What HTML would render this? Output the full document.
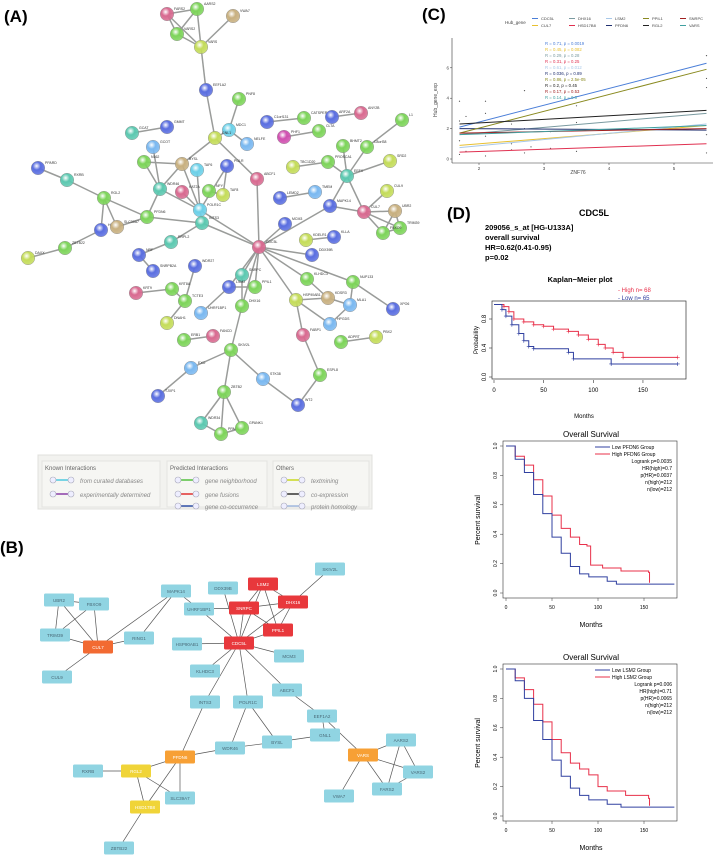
<!DOCTYPE html>
<html><head><meta charset="utf-8">
<style>
html,body{margin:0;padding:0;background:#fff;width:720px;height:856px;overflow:hidden}
svg{display:block;font-family:"Liberation Sans",sans-serif}
</style></head>
<body>
<svg id="fig" width="720" height="856" viewBox="0 0 720 856" xmlns="http://www.w3.org/2000/svg">
<defs id="defs"></defs>
<text x="4" y="22" font-size="17" font-weight="bold">(A)</text>
<text x="0" y="553" font-size="17" font-weight="bold">(B)</text>
<text x="422" y="20" font-size="17" font-weight="bold">(C)</text>
<text x="447" y="219" font-size="17" font-weight="bold">(D)</text>
<g id="pa"></g>
<g id="legA">
<rect x="38" y="455" width="334" height="54" fill="#f2f2ef" stroke="#e0e0dc"/>
<rect x="42" y="461" width="118" height="46" fill="#f6f6f3" stroke="#e4e4e0"/>
<rect x="167" y="461" width="100" height="46" fill="#f6f6f3" stroke="#e4e4e0"/>
<rect x="273" y="461" width="96" height="46" fill="#f6f6f3" stroke="#e4e4e0"/>
<g font-size="6" fill="#666">
<text x="45" y="470">Known Interactions</text><text x="170" y="470">Predicted Interactions</text><text x="276" y="470">Others</text>
<g font-style="italic" fill="#888"><text x="80" y="483">from curated databases</text><text x="80" y="497">experimentally determined</text>
<text x="205" y="483">gene neighborhood</text><text x="205" y="497">gene fusions</text><text x="205" y="509">gene co-occurrence</text>
<text x="311" y="483">textmining</text><text x="311" y="497">co-expression</text><text x="311" y="509">protein homology</text></g></g>
</g>
<g id="pb"></g>
<g id="pc"></g>
<g id="pd"></g>
</svg>
<script>
// ---------- Panel C data ----------
const cGenes=["CDC5L","CUL7","DHX16","HSD17B8","LSM2","PFDN6","PPIL1","RGL2","SNRPC","VARS"];
const cStart=[2.1,0.9,1.6,0.45,0.75,2.0,1.7,2.3,1.7,1.6];
const cEnd=[6.3,2.2,3.0,1.0,2.3,1.9,5.9,3.2,2.0,2.2];
const cXticks=[2,3,4,5];
const cYticks=[0,2,4,6];
const cStats=["R = 0.71, p = 0.0019","R = 0.45, p = 0.082","R = 0.29, p = 0.28","R = 0.31, p = 0.25","R = 0.61, p = 0.012","R = 0.036, p = 0.89","R = 0.86, p = 2.5e-05","R = 0.2, p = 0.45","R = 0.17, p = 0.53","R = 0.14, p = 0.6"];
const cPtX=[1.7,1.7,1.7,1.7,1.8,1.8,2.1,2.1,2.1,2.1,2.5,2.5,2.5,2.7,2.7,2.7,2.8,3.1,3.1,3.5,3.5,3.5,5.5,5.5,5.5,5.5,5.5];
const cPtY=[3.8,2.5,1.2,0.3,2.8,0.5,3.8,3.0,1.5,0.2,2.3,1.0,0.6,4.5,2.0,0.4,0.8,1.8,0.7,3.5,2.4,0.5,6.8,5.3,4.7,1.6,0.4];
// ---------- Panel D data ----------
const kmHighT=[0,10,15,20,30,40,50,60,75,85,95,105,112,120,130,185];
const kmHighS=[1,0.97,0.9,0.8,0.76,0.72,0.7,0.66,0.63,0.58,0.52,0.45,0.4,0.34,0.27,0.27];
const kmLowT=[0,8,12,18,25,30,35,40,75,80,118,185];
const kmLowS=[1,0.93,0.84,0.72,0.6,0.5,0.42,0.39,0.34,0.25,0.18,0.18];
const pfHighT=[0,10,20,30,40,50,60,70,80,88,92,105,125,155,156];
const pfHighS=[1,0.93,0.87,0.77,0.66,0.53,0.44,0.38,0.33,0.32,0.19,0.17,0.15,0.14,0.07];
const pfLowT=[0,10,20,30,40,50,60,70,80,90,110,120,183];
const pfLowS=[1,0.91,0.82,0.67,0.54,0.38,0.27,0.18,0.13,0.11,0.08,0.06,0.06];
const lsHighT=[0,10,20,30,40,50,60,70,80,90,100,110,130,155,156];
const lsHighS=[1,0.94,0.86,0.76,0.64,0.52,0.43,0.36,0.32,0.28,0.2,0.17,0.14,0.12,0.07];
const lsLowT=[0,10,20,30,40,50,60,70,80,90,110,125,183];
const lsLowS=[1,0.92,0.8,0.65,0.52,0.38,0.27,0.19,0.14,0.11,0.08,0.06,0.06];
const kmXticks=[0,50,100,150];
const kmYticks=[0,0.4,0.8];
const osYticks=[0,0.2,0.4,0.6,0.8,1.0];

const NS="http://www.w3.org/2000/svg";
function mk(parent,tag,attrs,txt){const e=document.createElementNS(NS,tag);for(const k in attrs)e.setAttribute(k,attrs[k]);if(txt!==undefined)e.textContent=txt;parent.appendChild(e);return e;}

// ---------- Panel A ----------
const colA={g:"#7dd45a",y:"#c4dc5a",b:"#5a6ee0",c:"#6cd0e8",t:"#5cc8b0",p:"#d86a90",m:"#d050b0",n:"#c8b080",l:"#7ab8f0"};
const defs=document.getElementById('defs');
for(const k in colA){const gr=mk(defs,'radialGradient',{id:'gr'+k,cx:'40%',cy:'35%',r:'65%'});mk(gr,'stop',{offset:'0%','stop-color':'#fff'});mk(gr,'stop',{offset:'45%','stop-color':colA[k]});mk(gr,'stop',{offset:'100%','stop-color':colA[k],'stop-opacity':0.85});}
const aNodes=[["FARS2",167,14,"p"],["AARS2",197,9,"g"],["VWA7",233,16,"n"],["VARS2",177,34,"g"],["VARS",201,47,"y"],["EEF1A2",206,90,"b"],["PNF8",239,99,"g"],["MDC1",229,130,"c"],["GNL1",215,138,"y"],["GCAT",132,133,"t"],["GMMT",167,127,"b"],["NELFE",247,144,"l"],["C1orf131",267,122,"b"],["CATSPER3",304,118,"g"],["ARF2A",332,117,"b"],["ANY2B",361,113,"p"],["L1",402,120,"g"],["PHF1",284,137,"m"],["CLTA",319,131,"g"],["BHMT2",343,146,"g"],["C8orf38",367,147,"g"],["SRD2",390,161,"y"],["TBC1D20",293,167,"y"],["PROSCA1",328,162,"g"],["EEFX",347,176,"t"],["GCOT",153,147,"l"],["BYSL",182,164,"n"],["TAF6",197,170,"c"],["POLR",227,166,"b"],["ABCF1",257,179,"p"],["PPARD",38,168,"b"],["RXRB",67,180,"t"],["N162",144,162,"g"],["WDR46",160,189,"t"],["KAT2A",182,192,"p"],["NFY",209,191,"g"],["TAF8",223,195,"y"],["POLR1C",200,210,"c"],["INTS3",202,223,"t"],["RGL2",104,198,"g"],["PFDN6",147,217,"g"],["HSD17B8",101,230,"b"],["SLC39A7",117,227,"n"],["ZBTB22",65,248,"g"],["DAXX",28,258,"y"],["LEMD2",280,198,"b"],["TMEM",315,192,"l"],["MAPK14",330,206,"b"],["CUL9",387,191,"y"],["CUL7",364,212,"p"],["UBR2",395,211,"n"],["TRIM39",400,228,"g"],["FBXO9",383,233,"g"],["MCM3",285,224,"b"],["KDELR1",306,240,"y"],["KLLA",334,237,"b"],["DDX39B",312,255,"b"],["CDC5L",259,247,"p"],["RRPL2",171,242,"t"],["NRF",139,255,"b"],["SNRPB2A",153,271,"b"],["WDR27",195,266,"b"],["SNRPC",242,275,"t"],["LSM2",229,287,"b"],["PPIL1",255,287,"g"],["DHX16",242,306,"g"],["KRT8A",172,289,"g"],["KRT9",136,293,"p"],["TCTE3",185,301,"g"],["UHRF1BP1",201,313,"l"],["DNAH1",167,323,"y"],["ERB1",184,340,"g"],["FANCD",213,336,"p"],["SKIV2L",231,350,"g"],["EXO",191,368,"l"],["STK38",263,379,"l"],["ZBTB2",224,392,"g"],["TJXP1",158,396,"b"],["WDR34",201,423,"t"],["PRMT",221,434,"g"],["GPANK1",242,428,"g"],["KLHDC3",307,279,"g"],["NUP133",353,282,"g"],["HSP90AB1",296,300,"y"],["KDSR3",328,298,"n"],["MLA1",350,305,"l"],["XPO6",393,309,"b"],["HPGDS",330,324,"l"],["FABP1",303,335,"p"],["ADPRT",341,342,"g"],["PBX2",376,337,"y"],["ESPL8",320,375,"g"],["WT2",298,405,"b"]];
const aEdges=[["FARS2","AARS2"],["FARS2","VARS2"],["FARS2","VARS"],["AARS2","VARS2"],["AARS2","VARS"],["VARS2","VARS"],["VWA7","VARS"],["VARS","EEF1A2"],["EEF1A2","GNL1"],["GNL1","MDC1"],["MDC1","PNF8"],["MDC1","NELFE"],["GNL1","BYSL"],["GNL1","ABCF1"],["ABCF1","CDC5L"],["GCAT","GMMT"],["C1orf131","CATSPER3"],["ARF2A","ANY2B"],["PHF1","CLTA"],["L1","C8orf38"],["C8orf38","EEFX"],["BHMT2","EEFX"],["SRD2","EEFX"],["PROSCA1","EEFX"],["EEFX","MAPK14"],["EEFX","CUL7"],["TBC1D20","PROSCA1"],["LEMD2","TMEM"],["MAPK14","CUL7"],["MAPK14","CDC5L"],["CUL9","CUL7"],["CUL7","UBR2"],["CUL7","TRIM39"],["CUL7","FBXO9"],["UBR2","TRIM39"],["UBR2","FBXO9"],["TRIM39","FBXO9"],["MCM3","CDC5L"],["KDELR1","KLLA"],["DDX39B","CDC5L"],["GCOT","WDR46"],["N162","BYSL"],["N162","WDR46"],["BYSL","WDR46"],["BYSL","POLR1C"],["WDR46","POLR1C"],["KAT2A","POLR1C"],["NFY","TAF8"],["TAF6","POLR1C"],["POLR","POLR1C"],["POLR","TAF8"],["POLR1C","INTS3"],["INTS3","CDC5L"],["POLR1C","CDC5L"],["PPARD","RXRB"],["RXRB","RGL2"],["RGL2","PFDN6"],["RGL2","HSD17B8"],["RGL2","SLC39A7"],["HSD17B8","ZBTB22"],["ZBTB22","DAXX"],["PFDN6","SLC39A7"],["PFDN6","INTS3"],["PFDN6","WDR46"],["INTS3","RRPL2"],["RRPL2","NRF"],["NRF","SNRPB2A"],["CDC5L","SNRPC"],["CDC5L","LSM2"],["CDC5L","PPIL1"],["CDC5L","DHX16"],["CDC5L","KLHDC3"],["CDC5L","NUP133"],["CDC5L","HSP90AB1"],["DHX16","SKIV2L"],["SKIV2L","EXO"],["SKIV2L","STK38"],["SKIV2L","ZBTB2"],["ZBTB2","WDR34"],["ZBTB2","PRMT"],["ZBTB2","GPANK1"],["WDR34","PRMT"],["PRMT","GPANK1"],["EXO","TJXP1"],["STK38","WT2"],["WT2","ESPL8"],["ESPL8","FABP1"],["FABP1","HSP90AB1"],["HSP90AB1","KDSR3"],["KDSR3","MLA1"],["KLHDC3","KDSR3"],["NUP133","XPO6"],["NUP133","MLA1"],["MLA1","HPGDS"],["HSP90AB1","HPGDS"],["ADPRT","PBX2"],["KRT8A","KRT9"],["KRT8A","TCTE3"],["TCTE3","DNAH1"],["ERB1","FANCD"],["WDR27","TCTE3"],["UHRF1BP1","LSM2"],["SNRPC","DHX16"],["LSM2","PPIL1"]];
const pa=document.getElementById('pa');
const aIdx={};aNodes.forEach(n=>aIdx[n[0]]=n);
aEdges.forEach(e=>{const a=aIdx[e[0]],b=aIdx[e[1]];const l=mk(pa,'line',{x1:a[1],y1:a[2],x2:b[1],y2:b[2],stroke:'#9a9c9a','stroke-width':1.5});

});
aNodes.forEach(n=>{const g=mk(pa,'g',{});


mk(g,'circle',{cx:n[1],cy:n[2],r:6.8,fill:'url(#gr'+n[3]+')',stroke:'#888','stroke-width':0.4});
mk(g,'text',{x:n[1]+7,y:n[2]-4,'font-size':3.5,fill:'#333'},n[0]);});
const legL=[[62,480,"#4fc8e0"],[62,494,"#8a3ea8"],[187,480,"#55c040"],[187,494,"#e03030"],[187,506,"#3050a8"],[293,480,"#c8d820"],[293,494,"#333"],[293,506,"#a0b8e0"]];
const legG=document.getElementById('legA');
legL.forEach(s=>{mk(legG,'line',{x1:s[0]-9,y1:s[1],x2:s[0]+9,y2:s[1],stroke:s[2],'stroke-width':1.5});mk(legG,'circle',{cx:s[0]-9,cy:s[1],r:3,fill:'#eef',stroke:'#aab','stroke-width':0.6});mk(legG,'circle',{cx:s[0]+9,cy:s[1],r:3,fill:'#eef',stroke:'#aab','stroke-width':0.6});});

// ---------- Panel B ----------
const bCol={l:"#90d4e2",r:"#e8383c",o:"#f26a32",a:"#f7a035",y:"#f0d438"};
const bNodes=[["SKIV2L",330,569,"l"],["LSM2",263,584,"r"],["DDX39B",223,588,"l"],["MAPK14",176,591,"l"],["DHX16",293,602,"r"],["SNRPC",244,608,"r"],["UHRF1BP1",199,609,"l"],["UBR2",59,600,"l"],["FBXO9",94,604,"l"],["TRIM39",55,635,"l"],["CUL7",98,647,"o"],["RING1",139,638,"l"],["PPIL1",278,630,"r"],["HSP90AB1",187,644,"l"],["CDC5L",239,643,"r"],["MCM3",289,656,"l"],["CUL9",57,677,"l"],["KLHDC3",205,671,"l"],["ABCF1",287,690,"l"],["INTS3",205,702,"l"],["POLR1C",248,702,"l"],["EEF1A2",322,716,"l"],["GNL1",325,735,"l"],["BYSL",277,742,"l"],["WDR46",230,748,"l"],["AARS2",401,740,"l"],["VARS",363,755,"a"],["PFDN6",180,757,"a"],["RXRB",88,771,"l"],["RGL2",136,771,"y"],["VARS2",418,772,"l"],["SLC39A7",180,798,"l"],["FARS2",387,789,"l"],["VWA7",339,796,"l"],["HSD17B8",145,807,"y"],["ZBTB22",119,848,"l"]];
const bEdges=[["UBR2","FBXO9"],["UBR2","TRIM39"],["UBR2","CUL7"],["FBXO9","TRIM39"],["FBXO9","CUL7"],["TRIM39","CUL7"],["CUL7","RING1"],["CUL7","MAPK14"],["CUL7","CUL9"],["RING1","MAPK14"],["MAPK14","UHRF1BP1"],["UHRF1BP1","SNRPC"],["UHRF1BP1","CDC5L"],["DDX39B","CDC5L"],["LSM2","SNRPC"],["LSM2","CDC5L"],["LSM2","PPIL1"],["LSM2","DHX16"],["SNRPC","DHX16"],["SNRPC","CDC5L"],["SNRPC","PPIL1"],["DHX16","PPIL1"],["DHX16","CDC5L"],["DHX16","SKIV2L"],["PPIL1","CDC5L"],["HSP90AB1","CDC5L"],["CDC5L","MCM3"],["CDC5L","KLHDC3"],["CDC5L","INTS3"],["CDC5L","POLR1C"],["CDC5L","ABCF1"],["ABCF1","EEF1A2"],["EEF1A2","GNL1"],["EEF1A2","VARS"],["GNL1","BYSL"],["BYSL","POLR1C"],["BYSL","WDR46"],["WDR46","POLR1C"],["WDR46","PFDN6"],["INTS3","PFDN6"],["PFDN6","RGL2"],["PFDN6","SLC39A7"],["PFDN6","HSD17B8"],["RGL2","RXRB"],["RGL2","HSD17B8"],["RGL2","SLC39A7"],["HSD17B8","ZBTB22"],["VARS","AARS2"],["VARS","VARS2"],["VARS","FARS2"],["VARS","VWA7"],["AARS2","VARS2"],["AARS2","FARS2"],["FARS2","VARS2"]];
const pb=document.getElementById('pb');const bIdx={};bNodes.forEach(n=>bIdx[n[0]]=n);
bEdges.forEach(e=>{const a=bIdx[e[0]],b=bIdx[e[1]];const l=mk(pb,'line',{x1:a[1],y1:a[2],x2:b[1],y2:b[2],stroke:'#555','stroke-width':0.7});

});
bNodes.forEach(n=>{const g=mk(pb,'g',{});


mk(g,'rect',{x:n[1]-15,y:n[2]-6.5,width:30,height:13,rx:1.5,fill:bCol[n[3]]});
mk(g,'text',{x:n[1],y:n[2]+1.8,'font-size':4.5,'text-anchor':'middle',fill:n[3]=='l'?'#4a6a78':'#fff'},n[0]);});

// ---------- Panel C ----------
const pc=document.getElementById('pc');
const cCol=["#4a7ed8","#e8c030","#7a9aa0","#e03050","#a8c8e8","#203070","#8a8a20","#222","#a02020","#40a0a0"];
const cx0=452,cx1=713,cy0=38,cy1=163;
const xs=v=>479+(v-2)*65, ys=v=>159-v*15.2;
mk(pc,'line',{x1:cx0,y1:cy0,x2:cx0,y2:cy1,stroke:'#333','stroke-width':0.6});
mk(pc,'line',{x1:cx0,y1:cy1,x2:cx1,y2:cy1,stroke:'#333','stroke-width':0.6});
cXticks.forEach(t=>{mk(pc,'line',{x1:xs(t),y1:cy1,x2:xs(t),y2:cy1+2,stroke:'#333','stroke-width':0.5});const tx=mk(pc,'text',{x:xs(t),y:cy1+7,'font-size':4.5,'text-anchor':'middle',fill:'#444'},t);});
cYticks.forEach(t=>{mk(pc,'line',{x1:cx0-2,y1:ys(t),x2:cx0,y2:ys(t),stroke:'#333','stroke-width':0.5});const tx=mk(pc,'text',{x:cx0-3,y:ys(t)+1.5,'font-size':4.5,'text-anchor':'end',fill:'#444'},t);});
mk(pc,'text',{x:578,y:174,'font-size':5,'text-anchor':'middle',fill:'#444'},"ZNF76");
mk(pc,'text',{x:437,y:100,'font-size':5,'text-anchor':'middle',fill:'#444',transform:'rotate(-90 437 100)'},"Hub_gene_exp");
mk(pc,'text',{x:505,y:24,'font-size':4.5,fill:'#444'},"Hub_gene");
cPtX.forEach((v,i)=>{const p=mk(pc,'circle',{cx:xs(v),cy:ys(cPtY[i]),r:0.6,fill:'#555'});

});
cGenes.forEach((g,i)=>{
 const ln=mk(pc,'line',{x1:xs(1.7),y1:ys(cStart[i]),x2:xs(5.5),y2:ys(cEnd[i]),stroke:cCol[i],'stroke-width':1});
 
 
 const col=Math.floor(i/2),row=i%2;const lx=532+col*37,ly=20+row*7;
 const le=mk(pc,'g',{});
 
 
 mk(le,'line',{x1:lx,y1:ly-1.5,x2:lx+6,y2:ly-1.5,stroke:cCol[i],'stroke-width':1});
 mk(le,'text',{x:lx+9,y:ly,'font-size':4,fill:'#444'},g);
 const st=mk(pc,'text',{x:545,y:45+i*6,'font-size':4.3,fill:cCol[i]},cStats[i]);
 
 
});

// ---------- Panel D ----------
const pd=document.getElementById('pd');
function stepPath(T,S,xf,yf){let d='M'+xf(T[0])+','+yf(S[0]);for(let i=1;i<T.length;i++){d+='H'+xf(T[i])+'V'+yf(S[i]);}return d;}
function censor(T,S,xf,yf,col,name){for(let i=1;i<T.length;i++){const m=mk(pd,'path',{d:`M${xf(T[i])-2},${yf(S[i])}h4M${xf(T[i])},${yf(S[i])-2}v4`,stroke:col,'stroke-width':0.6});}}
mk(pd,'text',{x:594,y:216,'font-size':9,'font-weight':'bold','text-anchor':'middle'},"CDC5L");
[["209056_s_at [HG-U133A]",230],["overall survival",240],["HR=0.62(0.41-0.95)",250],["p=0.02",260]].forEach(t=>mk(pd,'text',{x:485,y:t[1],'font-size':7.5,'font-weight':'bold'},t[0]));
mk(pd,'text',{x:580,y:282,'font-size':7.5,'font-weight':'bold','text-anchor':'middle'},"Kaplan\u2212Meier plot");
mk(pd,'text',{x:618,y:292,'font-size':6,fill:'#e8304a'},"- High  n= 68");
mk(pd,'text',{x:618,y:300,'font-size':6,fill:'#3040a0'},"- Low   n= 65");
{const x=t=>494+t*0.993,y=s=>377-s*72.5;
 mk(pd,'rect',{x:492,y:301,width:194,height:78,fill:'none',stroke:'#333','stroke-width':0.7});
 kmXticks.forEach(t=>{mk(pd,'line',{x1:x(t),y1:380,x2:x(t),y2:383,stroke:'#333','stroke-width':0.6});mk(pd,'text',{x:x(t),y:392,'font-size':6,'text-anchor':'middle'},t);});
 kmYticks.forEach(t=>{mk(pd,'line',{x1:489,y1:y(t),x2:492,y2:y(t),stroke:'#333','stroke-width':0.6});mk(pd,'text',{x:486,y:y(t),'font-size':6,'text-anchor':'middle',transform:`rotate(-90 486 ${y(t)})`},t.toFixed(1));});
 mk(pd,'text',{x:478,y:340,'font-size':6,'text-anchor':'middle',transform:'rotate(-90 478 340)'},"Probability");
 mk(pd,'text',{x:584,y:418,'font-size':6,'text-anchor':'middle'},"Months");
 const h=mk(pd,'path',{d:stepPath(kmHighT,kmHighS,x,y),fill:'none',stroke:'#e8304a','stroke-width':1});
 const l=mk(pd,'path',{d:stepPath(kmLowT,kmLowS,x,y),fill:'none',stroke:'#3040a0','stroke-width':1});
 censor(kmHighT,kmHighS,x,y,'#e8304a','km-high-censor');censor(kmLowT,kmLowS,x,y,'#3040a0','km-low-censor');}
function osPlot(dy,gene,HT,HS,LT,LS,stats){
 const x=t=>506+t*0.92,y=s=>593+dy-s*147;
 mk(pd,'text',{x:591,y:437+dy,'font-size':8,'text-anchor':'middle'},"Overall Survival");
 mk(pd,'rect',{x:503,y:441+dy,width:174,height:157,fill:'none',stroke:'#333','stroke-width':0.6});
 kmXticks.forEach(t=>{mk(pd,'line',{x1:x(t),y1:598+dy,x2:x(t),y2:601+dy,stroke:'#333','stroke-width':0.5});mk(pd,'text',{x:x(t),y:609+dy,'font-size':5,'text-anchor':'middle'},t);});
 osYticks.forEach(t=>{mk(pd,'line',{x1:500,y1:y(t),x2:503,y2:y(t),stroke:'#333','stroke-width':0.5});mk(pd,'text',{x:497,y:y(t),'font-size':5,'text-anchor':'middle',transform:`rotate(-90 497 ${y(t)})`},t.toFixed(1));});
 mk(pd,'text',{x:480,y:520+dy,'font-size':7,'text-anchor':'middle',transform:`rotate(-90 480 ${520+dy})`},"Percent survival");
 mk(pd,'text',{x:591,y:627+dy,'font-size':7,'text-anchor':'middle'},"Months");
 mk(pd,'line',{x1:595,y1:447+dy,x2:610,y2:447+dy,stroke:'#3040a0','stroke-width':1});
 mk(pd,'line',{x1:595,y1:454+dy,x2:610,y2:454+dy,stroke:'#e8304a','stroke-width':1});
 mk(pd,'text',{x:612,y:449+dy,'font-size':5},"Low "+gene+" Group");
 mk(pd,'text',{x:612,y:456+dy,'font-size':5},"High "+gene+" Group");
 stats.forEach((s,i)=>mk(pd,'text',{x:672,y:463+dy+i*7,'font-size':5,'text-anchor':'end'},s));
 const h=mk(pd,'path',{d:stepPath(HT,HS,x,y),fill:'none',stroke:'#e8304a','stroke-width':1});
 const l=mk(pd,'path',{d:stepPath(LT,LS,x,y),fill:'none',stroke:'#3040a0','stroke-width':1});
}
osPlot(0,"PFDN6",pfHighT,pfHighS,pfLowT,pfLowS,["Logrank p=0.0035","HR(high)=0.7","p(HR)=0.0037","n(high)=212","n(low)=212"]);
osPlot(223,"LSM2",lsHighT,lsHighS,lsLowT,lsLowS,["Logrank p=0.006","HR(high)=0.71","p(HR)=0.0065","n(high)=212","n(low)=212"]);
</script>
</body></html>
